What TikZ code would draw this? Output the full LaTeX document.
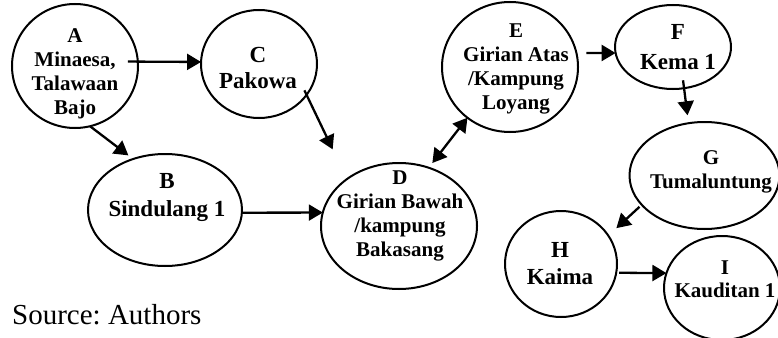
\documentclass[tikz,border=0pt]{standalone}
\usepackage{fontspec}
\setmainfont{Liberation Serif}
\usetikzlibrary{shapes.geometric,arrows.meta}
\frenchspacing
\begin{document}
\begin{tikzpicture}[x=1pt,y=-1pt,
  site/.style={ellipse,draw,line width=2pt,inner sep=0pt,outer sep=0pt},
  sitetxt/.style={align=center,inner sep=0pt,font=\bfseries\fontsize{21}{24}\selectfont},
  bigtxt/.style={align=center,inner sep=0pt,font=\bfseries\fontsize{23}{27}\selectfont},
  tip/.tip={Triangle[length=14pt,width=16pt]},
  link/.style={line width=2.3pt,-tip},
  linkboth/.style={line width=2.3pt,tip-tip},
]
\useasboundingbox (0,0) rectangle (778,337);

% villages
\node[site,minimum width=126pt,minimum height=124pt] (A) at (75,66) {};
\node[site,minimum width=154pt,minimum height=112pt] (B) at (165,210) {};
\node[site,minimum width=116pt,minimum height=108pt] (C) at (259,64) {};
\node[site,minimum width=156pt,minimum height=126pt] (D) at (399,226) {};
\node[site,minimum width=136pt,minimum height=130pt] (E) at (510,67) {};
\node[site,minimum width=116pt,minimum height=84pt]  (F) at (673,47) {};
\node[site,minimum width=150pt,minimum height=107pt] (G) at (704.5,175.5) {};
\node[site,minimum width=112pt,minimum height=106pt] (H) at (561,264) {};
\node[site,minimum width=116pt,minimum height=104pt] (I) at (722,288) {};

% village names
\node[sitetxt] (At) at (75,73.5) {A\\Minaesa,\\Talawaan\\Bajo};
\node[bigtxt,font=\bfseries\fontsize{23}{28}\selectfont] (Bt) at (167,197.5) {B\\Sindulang 1};
\node[bigtxt,font=\bfseries\fontsize{23}{26}\selectfont] (Ct) at (258,67.5) {C\\Pakowa};
\node[sitetxt] (Dt) at (400,215.5) {D\\Girian Bawah\\/kampung\\Bakasang};
\node[sitetxt] (Et) at (516,68.5) {E\\Girian Atas\\/Kampung\\Loyang};
\node[bigtxt,font=\bfseries\fontsize{23}{30}\selectfont] (Ft) at (678,47.5) {F\\Kema 1};
\node[sitetxt] (Gt) at (711,172) {G\\Tumaluntung};
\node[bigtxt] (Ht) at (560,263.5) {H\\Kaima};
\node[sitetxt,font=\bfseries\fontsize{21}{23}\selectfont] (It) at (725,279.5) {I\\Kauditan 1};

% route
\draw[link, shorten <=-10pt] (A.4) -- (C.178);
\draw[link, shorten >=6pt] (A.284) -- (B.122);
\draw[link, shorten <=-5pt, shorten >=33pt] (C.327) -- (D.138);
\draw[link] (B.358) -- (D.170);
\draw[linkboth, shorten <=6pt] (D.63) -- (E.230);
\draw[link, shorten <=10pt] (E.12) -- (F.186);
\draw[link, shorten <=-8pt, shorten >=8pt] (F.285) -- (G.107);
\draw[link, shorten <=3pt, shorten >=11pt] (G.205) -- (H.31);
\draw[link, shorten <=3pt] (H.351) -- (I.165);

\node[anchor=base west,inner sep=0pt,font=\fontsize{29}{34}\selectfont] (src) at (12,324) {Source: Authors};
\end{tikzpicture}
\end{document}
